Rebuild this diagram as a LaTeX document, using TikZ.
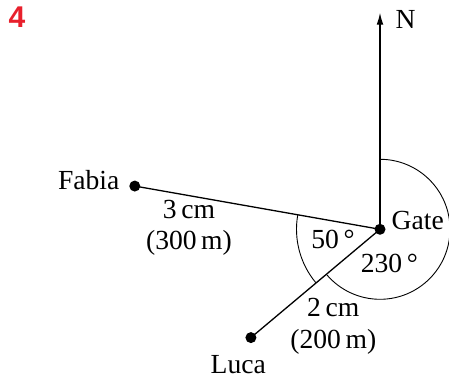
\documentclass[tikz,border=0pt]{standalone}
\usepackage{fontspec}
\setmainfont{Liberation Serif}
\newfontfamily\labelsans{Liberation Sans}
\usetikzlibrary{arrows.meta,calc}
\definecolor{qred}{RGB}{232,32,44}
\tikzset{
  lbl/.style={inner sep=0pt, anchor=base, font=\fontsize{13.8}{16}\selectfont},
  pt/.style={circle, fill=black, inner sep=0pt, minimum size=5.5pt},
  seg/.style={line width=0.65pt},
  ang/.style={line width=0.45pt},
}
\begin{document}
\begin{tikzpicture}[x=0.5pt,y=0.5pt]
\useasboundingbox (0,0) rectangle (449,378);
\coordinate (G) at (380,148.7);
% angle arcs
\draw[ang] ($(G)+(90:70)$) arc[start angle=90, end angle=-140, radius=70];
\draw[ang] ($(G)+(170:83.5)$) arc[start angle=170, end angle=220, radius=83.5];
% points
\node[pt] (gate) at (G) {};
\node[pt] (fabia) at ($(G)+(170:249)$) {};
\node[pt] (luca) at ($(G)+(220:168.5)$) {};
\coordinate (north) at (380,365.3);
% connectors
\draw[seg] (fabia.center) -- (gate.center);
\draw[seg] (luca.center) -- (gate.center);
\draw[seg,-{Latex[length=6pt,width=3.4pt]}] (gate.center) -- (north);
% labels
\node[lbl] (nlab) at (405.7,349.7) {N};
\node[lbl] (fablab) at (88.7,188) {Fabia};
\node[lbl] (d1) at (189,159.7) {3\,cm};
\node[lbl] (d1m) at (189,128) {(300\,m)};
\node[lbl] (a50) at (333,129.7) {50\,°};
\node[lbl] (gatelab) at (417.7,148) {Gate};
\node[lbl] (a230) at (389.3,105.3) {230\,°};
\node[lbl] (d2) at (333.3,61.3) {2\,cm};
\node[lbl] (d2m) at (333.3,29.7) {(200\,m)};
\node[lbl] (lucalab) at (238.3,4.7) {Luca};
\node[inner sep=0pt, anchor=base, text=qred, font=\labelsans\bfseries\fontsize{15}{17}\selectfont] (num) at (17,350.7) {4};
\end{tikzpicture}
\end{document}
